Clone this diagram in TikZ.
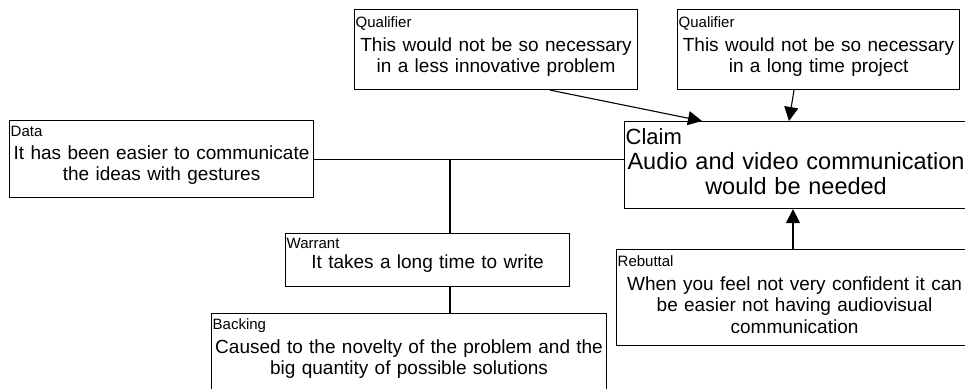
\documentclass[tikz,border=0pt]{standalone}
\usepackage{fontspec}
\setmainfont{Liberation Sans}
\usetikzlibrary{arrows.meta,calc}
\tikzset{
  box/.style={draw, line width=1.1pt, rectangle, inner sep=0pt, anchor=north west},
  lbl/.style={anchor=base west, inner sep=0pt, font=\fontsize{15}{17}\selectfont},
  bodytext/.style={anchor=base, inner sep=0pt, align=center, font=\fontsize{19}{21.5}\selectfont},
  clbl/.style={anchor=base west, inner sep=0pt, font=\fontsize{22}{26}\selectfont},
  cbody/.style={anchor=base, inner sep=0pt, align=center, font=\fontsize{23.5}{25.5}\selectfont},
  conn/.style={line width=1.1pt},
  arr/.style={conn, -{Triangle[length=14pt,width=14pt]}},
}
\begin{document}
\begin{tikzpicture}[x=1pt, y=-1pt]
\useasboundingbox (0,0) rectangle (965,388);
\fill[white] (0,0) rectangle (965,388);
\clip (0,0) rectangle (965,388);

% boxes
\node[box, minimum width=283pt, minimum height=80pt] (q1) at (354,9) {};
\node[box, minimum width=282pt, minimum height=80pt] (q2) at (677,9) {};
\node[box, minimum width=304pt, minimum height=77pt] (data) at (9,120) {};
\node[box, minimum width=343pt, minimum height=87pt] (claim) at (624,121) {};
\node[box, minimum width=284pt, minimum height=53pt] (warrant) at (285,233) {};
\node[box, minimum width=395pt, minimum height=82pt] (backing) at (211,313) {};
\node[box, minimum width=356pt, minimum height=96pt] (rebuttal) at (616,249) {};

% texts
\node[lbl] (q1l) at ($(q1.north west)+(1.5,18)$) {Qualifier};
\node[bodytext, text width=283pt] (q1b) at ($(q1.north)+(0,42)$) {This would not be so necessary\\in a less innovative problem};
\node[lbl] (q2l) at ($(q2.north west)+(1.5,18)$) {Qualifier};
\node[bodytext, text width=282pt] (q2b) at ($(q2.north)+(0,42)$) {This would not be so necessary\\in a long time project};
\node[lbl] (datal) at ($(data.north west)+(1.5,16)$) {Data};
\node[bodytext, text width=304pt] (datab) at ($(data.north)+(0,39)$) {It has been easier to communicate\\the ideas with gestures};
\node[clbl] (claiml) at ($(claim.north west)+(1.5,23)$) {Claim};
\node[cbody, text width=343pt] (claimb) at ($(claim.north)+(0,48)$) {Audio and video communication\\would be needed};
\node[lbl] (warrantl) at ($(warrant.north west)+(1.5,15)$) {Warrant};
\node[bodytext, text width=284pt] (warrantb) at ($(warrant.north)+(0,35)$) {It takes a long time to write};
\node[lbl] (backingl) at ($(backing.north west)+(1.5,16)$) {Backing};
\node[bodytext, text width=395pt] (backingb) at ($(backing.north)+(0,40)$) {Caused to the novelty of the problem and the\\big quantity of possible solutions};
\node[lbl] (rebuttall) at ($(rebuttal.north west)+(1.5,17)$) {Rebuttal};
\node[bodytext, text width=356pt] (rebuttalb) at ($(rebuttal.north)+(0,41)$) {When you feel not very confident it can\\be easier not having audiovisual\\communication};

% connectors
\draw[conn] (data.east) -- (data.east -| claim.west);
\coordinate (wj) at ($(warrant.north west)+(165,0)$);
\draw[conn] (wj |- data.east) -- (wj);
\draw[conn] (wj |- warrant.south) -- (wj |- backing.north);
\draw[arr] ($(q1.south west)+(196,0)$) -- ($(claim.north west)+(78,0)$);
\draw[arr] ($(q2.south west)+(117,0)$) -- ($(claim.north west)+(165,0)$);
\coordinate (rj) at ($(rebuttal.north west)+(177,0)$);
\draw[arr] (rj) -- (rj |- claim.south);
\end{tikzpicture}
\end{document}
